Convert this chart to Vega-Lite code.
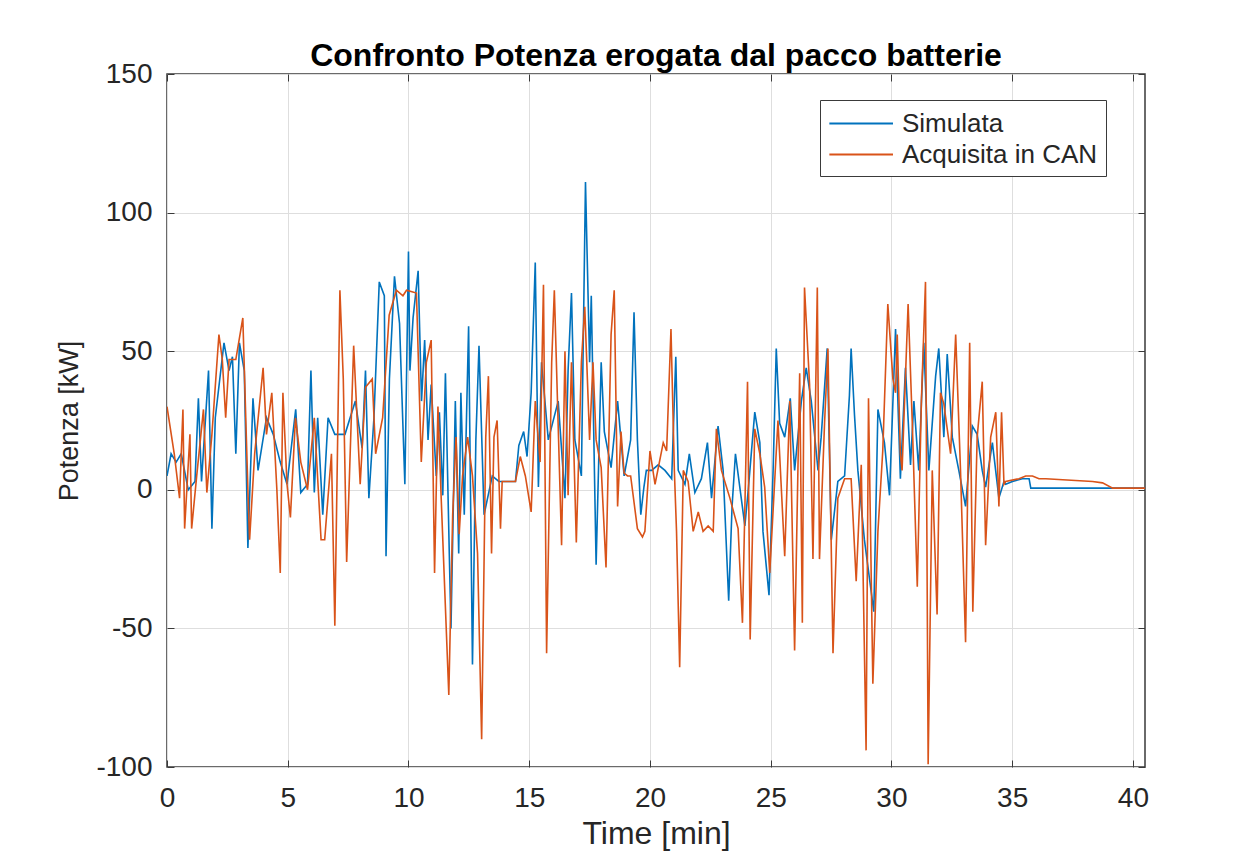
{
  "$schema": "https://vega.github.io/schema/vega-lite/v6.json",
  "width": 978,
  "height": 693,
  "padding": {"left": 55, "top": 40, "right": 10, "bottom": 5},
  "background": "white",
  "config": {
    "font": "Liberation Sans",
    "view": {"stroke": "#3a3a3a", "strokeWidth": 1.5},
    "axis": {"labelFont": "Liberation Sans", "titleFont": "Liberation Sans", "labelColor": "#262626", "titleColor": "#262626", "titleFontWeight": "normal", "domain": false, "tickColor": "#3a3a3a", "gridColor": "#dedede", "gridWidth": 1, "labelFlush": false}
  },
  "title": {"text": "Confronto Potenza erogata dal pacco batterie", "font": "Liberation Sans", "fontSize": 32, "fontWeight": "bold", "color": "#000000", "offset": -13, "anchor": "middle"},
  "data": {"values": [
    {"t":0,"p":5,"s":"Simulata"},{"t":0.17,"p":13,"s":"Simulata"},{"t":0.38,"p":10,"s":"Simulata"},{"t":0.59,"p":13,"s":"Simulata"},{"t":0.88,"p":0,"s":"Simulata"},{"t":1.16,"p":3,"s":"Simulata"},{"t":1.3,"p":33,"s":"Simulata"},{"t":1.43,"p":3,"s":"Simulata"},{"t":1.72,"p":43,"s":"Simulata"},{"t":1.86,"p":-14,"s":"Simulata"},{"t":2.0,"p":26,"s":"Simulata"},{"t":2.36,"p":53,"s":"Simulata"},{"t":2.57,"p":43,"s":"Simulata"},{"t":2.71,"p":48,"s":"Simulata"},{"t":2.85,"p":13,"s":"Simulata"},{"t":3.0,"p":53,"s":"Simulata"},{"t":3.2,"p":43,"s":"Simulata"},{"t":3.35,"p":-21,"s":"Simulata"},{"t":3.56,"p":33,"s":"Simulata"},{"t":3.77,"p":7,"s":"Simulata"},{"t":4.12,"p":26,"s":"Simulata"},{"t":4.4,"p":20,"s":"Simulata"},{"t":4.69,"p":10,"s":"Simulata"},{"t":4.97,"p":2,"s":"Simulata"},{"t":5.33,"p":29,"s":"Simulata"},{"t":5.54,"p":-1,"s":"Simulata"},{"t":5.82,"p":2,"s":"Simulata"},{"t":5.96,"p":43,"s":"Simulata"},{"t":6.1,"p":-1,"s":"Simulata"},{"t":6.24,"p":26,"s":"Simulata"},{"t":6.45,"p":-9,"s":"Simulata"},{"t":6.67,"p":26,"s":"Simulata"},{"t":6.95,"p":20,"s":"Simulata"},{"t":7.37,"p":20,"s":"Simulata"},{"t":7.8,"p":32,"s":"Simulata"},{"t":8.08,"p":15,"s":"Simulata"},{"t":8.22,"p":43,"s":"Simulata"},{"t":8.36,"p":-3,"s":"Simulata"},{"t":8.57,"p":26,"s":"Simulata"},{"t":8.79,"p":75,"s":"Simulata"},{"t":9.0,"p":70,"s":"Simulata"},{"t":9.07,"p":-24,"s":"Simulata"},{"t":9.21,"p":40,"s":"Simulata"},{"t":9.42,"p":77,"s":"Simulata"},{"t":9.63,"p":60,"s":"Simulata"},{"t":9.85,"p":2,"s":"Simulata"},{"t":10.0,"p":86,"s":"Simulata"},
    {"t":10.06,"p":43,"s":"Simulata"},{"t":10.19,"p":62,"s":"Simulata"},{"t":10.4,"p":79,"s":"Simulata"},{"t":10.54,"p":32,"s":"Simulata"},{"t":10.67,"p":54,"s":"Simulata"},{"t":10.81,"p":18,"s":"Simulata"},{"t":10.94,"p":38,"s":"Simulata"},{"t":11.15,"p":5,"s":"Simulata"},{"t":11.28,"p":28,"s":"Simulata"},{"t":11.42,"p":-2,"s":"Simulata"},{"t":11.53,"p":42,"s":"Simulata"},{"t":11.69,"p":-23,"s":"Simulata"},{"t":11.76,"p":-50,"s":"Simulata"},{"t":11.94,"p":32,"s":"Simulata"},{"t":12.08,"p":-23,"s":"Simulata"},{"t":12.17,"p":35,"s":"Simulata"},{"t":12.31,"p":-9,"s":"Simulata"},{"t":12.49,"p":59,"s":"Simulata"},{"t":12.65,"p":-63,"s":"Simulata"},{"t":12.79,"p":18,"s":"Simulata"},{"t":12.92,"p":52,"s":"Simulata"},{"t":13.13,"p":-9,"s":"Simulata"},{"t":13.47,"p":5,"s":"Simulata"},{"t":13.74,"p":3,"s":"Simulata"},{"t":14.43,"p":3,"s":"Simulata"},{"t":14.57,"p":16,"s":"Simulata"},{"t":14.77,"p":21,"s":"Simulata"},{"t":14.91,"p":12,"s":"Simulata"},{"t":15.08,"p":35,"s":"Simulata"},{"t":15.25,"p":82,"s":"Simulata"},{"t":15.38,"p":1,"s":"Simulata"},{"t":15.51,"p":46,"s":"Simulata"},{"t":15.79,"p":18,"s":"Simulata"},{"t":16.2,"p":32,"s":"Simulata"},{"t":16.48,"p":-3,"s":"Simulata"},{"t":16.61,"p":43,"s":"Simulata"},{"t":16.75,"p":71,"s":"Simulata"},{"t":16.89,"p":18,"s":"Simulata"},{"t":17.16,"p":5,"s":"Simulata"},{"t":17.33,"p":111,"s":"Simulata"},{"t":17.5,"p":46,"s":"Simulata"},{"t":17.57,"p":70,"s":"Simulata"},{"t":17.77,"p":-27,"s":"Simulata"},{"t":17.98,"p":46,"s":"Simulata"},{"t":18.11,"p":21,"s":"Simulata"},{"t":18.39,"p":8,"s":"Simulata"},{"t":18.66,"p":32,"s":"Simulata"},{"t":18.93,"p":5,"s":"Simulata"},{"t":19.2,"p":18,"s":"Simulata"},{"t":19.34,"p":64,"s":"Simulata"},{"t":19.48,"p":18,"s":"Simulata"},{"t":19.62,"p":-9,"s":"Simulata"},{"t":19.75,"p":1,"s":"Simulata"},
    {"t":19.85,"p":7,"s":"Simulata"},{"t":20.07,"p":7,"s":"Simulata"},{"t":20.34,"p":9,"s":"Simulata"},{"t":20.62,"p":7,"s":"Simulata"},{"t":20.9,"p":4,"s":"Simulata"},{"t":21.07,"p":48,"s":"Simulata"},{"t":21.17,"p":7,"s":"Simulata"},{"t":21.45,"p":2,"s":"Simulata"},{"t":21.63,"p":13,"s":"Simulata"},{"t":21.86,"p":-1,"s":"Simulata"},{"t":22.13,"p":4,"s":"Simulata"},{"t":22.38,"p":17,"s":"Simulata"},{"t":22.55,"p":-3,"s":"Simulata"},{"t":22.82,"p":23,"s":"Simulata"},{"t":23.03,"p":7,"s":"Simulata"},{"t":23.26,"p":-40,"s":"Simulata"},{"t":23.4,"p":-6,"s":"Simulata"},{"t":23.54,"p":13,"s":"Simulata"},{"t":23.72,"p":1,"s":"Simulata"},{"t":23.93,"p":-13,"s":"Simulata"},{"t":24.06,"p":-1,"s":"Simulata"},{"t":24.34,"p":28,"s":"Simulata"},{"t":24.55,"p":17,"s":"Simulata"},{"t":24.68,"p":-15,"s":"Simulata"},{"t":24.93,"p":-38,"s":"Simulata"},{"t":25.1,"p":7,"s":"Simulata"},{"t":25.23,"p":51,"s":"Simulata"},{"t":25.37,"p":24,"s":"Simulata"},{"t":25.58,"p":19,"s":"Simulata"},{"t":25.81,"p":33,"s":"Simulata"},{"t":25.99,"p":7,"s":"Simulata"},{"t":26.27,"p":32,"s":"Simulata"},{"t":26.47,"p":44,"s":"Simulata"},{"t":26.68,"p":32,"s":"Simulata"},{"t":26.96,"p":7,"s":"Simulata"},{"t":27.09,"p":19,"s":"Simulata"},{"t":27.34,"p":51,"s":"Simulata"},{"t":27.51,"p":-18,"s":"Simulata"},{"t":27.78,"p":3,"s":"Simulata"},{"t":28.06,"p":5,"s":"Simulata"},{"t":28.26,"p":34,"s":"Simulata"},{"t":28.33,"p":51,"s":"Simulata"},{"t":28.47,"p":27,"s":"Simulata"},{"t":28.61,"p":7,"s":"Simulata"},{"t":28.88,"p":-18,"s":"Simulata"},{"t":29.27,"p":-44,"s":"Simulata"},{"t":29.44,"p":29,"s":"Simulata"},{"t":29.71,"p":17,"s":"Simulata"},{"t":29.92,"p":-2,"s":"Simulata"},
    {"t":30.17,"p":58,"s":"Simulata"},{"t":30.37,"p":4,"s":"Simulata"},{"t":30.58,"p":44,"s":"Simulata"},{"t":30.79,"p":9,"s":"Simulata"},{"t":30.93,"p":32,"s":"Simulata"},{"t":31.13,"p":7,"s":"Simulata"},{"t":31.34,"p":53,"s":"Simulata"},{"t":31.55,"p":7,"s":"Simulata"},{"t":31.83,"p":41,"s":"Simulata"},{"t":31.96,"p":51,"s":"Simulata"},{"t":32.17,"p":19,"s":"Simulata"},{"t":32.31,"p":49,"s":"Simulata"},{"t":32.52,"p":19,"s":"Simulata"},{"t":32.79,"p":7,"s":"Simulata"},{"t":33.07,"p":-6,"s":"Simulata"},{"t":33.35,"p":23,"s":"Simulata"},{"t":33.55,"p":20,"s":"Simulata"},{"t":33.76,"p":7,"s":"Simulata"},{"t":33.9,"p":1,"s":"Simulata"},{"t":34.18,"p":17,"s":"Simulata"},{"t":34.45,"p":-3,"s":"Simulata"},{"t":34.66,"p":3,"s":"Simulata"},{"t":34.73,"p":2,"s":"Simulata"},{"t":35.01,"p":3,"s":"Simulata"},{"t":35.42,"p":4,"s":"Simulata"},{"t":35.7,"p":4,"s":"Simulata"},{"t":35.77,"p":0.6,"s":"Simulata"},{"t":39.43,"p":0.6,"s":"Simulata"},{"t":40.5,"p":0.6,"s":"Simulata"},
    {"t":0,"p":30,"s":"Acquisita in CAN"},{"t":0.3,"p":13,"s":"Acquisita in CAN"},{"t":0.52,"p":-3,"s":"Acquisita in CAN"},{"t":0.66,"p":29,"s":"Acquisita in CAN"},{"t":0.73,"p":-14,"s":"Acquisita in CAN"},{"t":0.95,"p":20,"s":"Acquisita in CAN"},{"t":1.02,"p":-14,"s":"Acquisita in CAN"},{"t":1.23,"p":5,"s":"Acquisita in CAN"},{"t":1.51,"p":29,"s":"Acquisita in CAN"},{"t":1.65,"p":-1,"s":"Acquisita in CAN"},{"t":1.86,"p":20,"s":"Acquisita in CAN"},{"t":2.15,"p":56,"s":"Acquisita in CAN"},{"t":2.29,"p":47,"s":"Acquisita in CAN"},{"t":2.43,"p":26,"s":"Acquisita in CAN"},{"t":2.57,"p":47,"s":"Acquisita in CAN"},{"t":2.85,"p":47,"s":"Acquisita in CAN"},{"t":3.14,"p":62,"s":"Acquisita in CAN"},{"t":3.35,"p":0,"s":"Acquisita in CAN"},{"t":3.42,"p":-18,"s":"Acquisita in CAN"},{"t":3.63,"p":13,"s":"Acquisita in CAN"},{"t":3.98,"p":44,"s":"Acquisita in CAN"},{"t":4.12,"p":20,"s":"Acquisita in CAN"},{"t":4.34,"p":35,"s":"Acquisita in CAN"},{"t":4.55,"p":0,"s":"Acquisita in CAN"},{"t":4.69,"p":-30,"s":"Acquisita in CAN"},{"t":4.8,"p":35,"s":"Acquisita in CAN"},{"t":4.97,"p":2,"s":"Acquisita in CAN"},{"t":5.11,"p":-10,"s":"Acquisita in CAN"},{"t":5.32,"p":26,"s":"Acquisita in CAN"},{"t":5.54,"p":10,"s":"Acquisita in CAN"},{"t":5.82,"p":0,"s":"Acquisita in CAN"},{"t":6.1,"p":26,"s":"Acquisita in CAN"},{"t":6.38,"p":-18,"s":"Acquisita in CAN"},{"t":6.53,"p":-18,"s":"Acquisita in CAN"},{"t":6.81,"p":13,"s":"Acquisita in CAN"},{"t":6.95,"p":-49,"s":"Acquisita in CAN"},{"t":7.16,"p":72,"s":"Acquisita in CAN"},{"t":7.3,"p":40,"s":"Acquisita in CAN"},{"t":7.44,"p":-26,"s":"Acquisita in CAN"},{"t":7.73,"p":52,"s":"Acquisita in CAN"},{"t":8.0,"p":2,"s":"Acquisita in CAN"},{"t":8.22,"p":37,"s":"Acquisita in CAN"},{"t":8.5,"p":40,"s":"Acquisita in CAN"},{"t":8.64,"p":13,"s":"Acquisita in CAN"},{"t":8.93,"p":26,"s":"Acquisita in CAN"},{"t":9.2,"p":63,"s":"Acquisita in CAN"},{"t":9.5,"p":72,"s":"Acquisita in CAN"},{"t":9.77,"p":70,"s":"Acquisita in CAN"},
    {"t":9.92,"p":72,"s":"Acquisita in CAN"},{"t":10.33,"p":71,"s":"Acquisita in CAN"},{"t":10.53,"p":10,"s":"Acquisita in CAN"},{"t":10.74,"p":46,"s":"Acquisita in CAN"},{"t":10.94,"p":54,"s":"Acquisita in CAN"},{"t":11.08,"p":-30,"s":"Acquisita in CAN"},{"t":11.22,"p":30,"s":"Acquisita in CAN"},{"t":11.35,"p":-2,"s":"Acquisita in CAN"},{"t":11.67,"p":-74,"s":"Acquisita in CAN"},{"t":11.83,"p":-9,"s":"Acquisita in CAN"},{"t":11.97,"p":19,"s":"Acquisita in CAN"},{"t":12.1,"p":-16,"s":"Acquisita in CAN"},{"t":12.24,"p":5,"s":"Acquisita in CAN"},{"t":12.45,"p":19,"s":"Acquisita in CAN"},{"t":12.65,"p":5,"s":"Acquisita in CAN"},{"t":12.86,"p":-23,"s":"Acquisita in CAN"},{"t":13.03,"p":-90,"s":"Acquisita in CAN"},{"t":13.2,"p":19,"s":"Acquisita in CAN"},{"t":13.31,"p":41,"s":"Acquisita in CAN"},{"t":13.44,"p":-23,"s":"Acquisita in CAN"},{"t":13.54,"p":19,"s":"Acquisita in CAN"},{"t":13.67,"p":25,"s":"Acquisita in CAN"},{"t":13.81,"p":-14,"s":"Acquisita in CAN"},{"t":13.88,"p":3,"s":"Acquisita in CAN"},{"t":14.43,"p":3,"s":"Acquisita in CAN"},{"t":14.63,"p":12,"s":"Acquisita in CAN"},{"t":14.84,"p":5,"s":"Acquisita in CAN"},{"t":15.08,"p":-8,"s":"Acquisita in CAN"},{"t":15.25,"p":32,"s":"Acquisita in CAN"},{"t":15.45,"p":10,"s":"Acquisita in CAN"},{"t":15.59,"p":74,"s":"Acquisita in CAN"},{"t":15.72,"p":-59,"s":"Acquisita in CAN"},{"t":15.93,"p":46,"s":"Acquisita in CAN"},{"t":16.04,"p":72,"s":"Acquisita in CAN"},{"t":16.17,"p":32,"s":"Acquisita in CAN"},{"t":16.34,"p":-20,"s":"Acquisita in CAN"},{"t":16.48,"p":50,"s":"Acquisita in CAN"},{"t":16.61,"p":-2,"s":"Acquisita in CAN"},{"t":16.75,"p":46,"s":"Acquisita in CAN"},{"t":16.95,"p":-19,"s":"Acquisita in CAN"},{"t":17.16,"p":46,"s":"Acquisita in CAN"},{"t":17.3,"p":66,"s":"Acquisita in CAN"},{"t":17.5,"p":18,"s":"Acquisita in CAN"},{"t":17.64,"p":46,"s":"Acquisita in CAN"},{"t":17.77,"p":18,"s":"Acquisita in CAN"},{"t":17.98,"p":8,"s":"Acquisita in CAN"},{"t":18.18,"p":-28,"s":"Acquisita in CAN"},{"t":18.39,"p":56,"s":"Acquisita in CAN"},{"t":18.52,"p":72,"s":"Acquisita in CAN"},{"t":18.66,"p":-6,"s":"Acquisita in CAN"},{"t":18.8,"p":21,"s":"Acquisita in CAN"},{"t":18.93,"p":6,"s":"Acquisita in CAN"},{"t":19.07,"p":5,"s":"Acquisita in CAN"},{"t":19.2,"p":5,"s":"Acquisita in CAN"},{"t":19.48,"p":-14,"s":"Acquisita in CAN"},{"t":19.69,"p":-17,"s":"Acquisita in CAN"},
    {"t":19.79,"p":-15,"s":"Acquisita in CAN"},{"t":20.0,"p":14,"s":"Acquisita in CAN"},{"t":20.21,"p":2,"s":"Acquisita in CAN"},{"t":20.55,"p":17,"s":"Acquisita in CAN"},{"t":20.69,"p":14,"s":"Acquisita in CAN"},{"t":20.87,"p":58,"s":"Acquisita in CAN"},{"t":21.01,"p":7,"s":"Acquisita in CAN"},{"t":21.1,"p":-15,"s":"Acquisita in CAN"},{"t":21.23,"p":-64,"s":"Acquisita in CAN"},{"t":21.38,"p":7,"s":"Acquisita in CAN"},{"t":21.58,"p":3,"s":"Acquisita in CAN"},{"t":21.79,"p":-15,"s":"Acquisita in CAN"},{"t":22.0,"p":-8,"s":"Acquisita in CAN"},{"t":22.2,"p":-15,"s":"Acquisita in CAN"},{"t":22.41,"p":-13,"s":"Acquisita in CAN"},{"t":22.62,"p":-15,"s":"Acquisita in CAN"},{"t":22.75,"p":22,"s":"Acquisita in CAN"},{"t":22.96,"p":7,"s":"Acquisita in CAN"},{"t":23.31,"p":-3,"s":"Acquisita in CAN"},{"t":23.65,"p":-14,"s":"Acquisita in CAN"},{"t":23.83,"p":-48,"s":"Acquisita in CAN"},{"t":24.04,"p":39,"s":"Acquisita in CAN"},{"t":24.15,"p":-54,"s":"Acquisita in CAN"},{"t":24.34,"p":22,"s":"Acquisita in CAN"},{"t":24.55,"p":13,"s":"Acquisita in CAN"},{"t":24.75,"p":1,"s":"Acquisita in CAN"},{"t":24.96,"p":-30,"s":"Acquisita in CAN"},{"t":25.3,"p":25,"s":"Acquisita in CAN"},{"t":25.58,"p":-24,"s":"Acquisita in CAN"},{"t":25.79,"p":32,"s":"Acquisita in CAN"},{"t":25.99,"p":-58,"s":"Acquisita in CAN"},{"t":26.2,"p":42,"s":"Acquisita in CAN"},{"t":26.31,"p":-48,"s":"Acquisita in CAN"},{"t":26.4,"p":73,"s":"Acquisita in CAN"},{"t":26.61,"p":38,"s":"Acquisita in CAN"},{"t":26.75,"p":-25,"s":"Acquisita in CAN"},{"t":26.93,"p":73,"s":"Acquisita in CAN"},{"t":27.02,"p":-25,"s":"Acquisita in CAN"},{"t":27.23,"p":24,"s":"Acquisita in CAN"},{"t":27.37,"p":51,"s":"Acquisita in CAN"},{"t":27.58,"p":-59,"s":"Acquisita in CAN"},{"t":27.78,"p":-3,"s":"Acquisita in CAN"},{"t":28.06,"p":4,"s":"Acquisita in CAN"},{"t":28.33,"p":4,"s":"Acquisita in CAN"},{"t":28.54,"p":-33,"s":"Acquisita in CAN"},{"t":28.75,"p":9,"s":"Acquisita in CAN"},{"t":28.95,"p":-94,"s":"Acquisita in CAN"},{"t":29.05,"p":33,"s":"Acquisita in CAN"},{"t":29.23,"p":-70,"s":"Acquisita in CAN"},{"t":29.44,"p":-15,"s":"Acquisita in CAN"},{"t":29.64,"p":14,"s":"Acquisita in CAN"},{"t":29.85,"p":67,"s":"Acquisita in CAN"},
    {"t":30.06,"p":40,"s":"Acquisita in CAN"},{"t":30.17,"p":35,"s":"Acquisita in CAN"},{"t":30.24,"p":56,"s":"Acquisita in CAN"},{"t":30.37,"p":13,"s":"Acquisita in CAN"},{"t":30.44,"p":7,"s":"Acquisita in CAN"},{"t":30.69,"p":67,"s":"Acquisita in CAN"},{"t":30.86,"p":25,"s":"Acquisita in CAN"},{"t":31.07,"p":-35,"s":"Acquisita in CAN"},{"t":31.24,"p":32,"s":"Acquisita in CAN"},{"t":31.41,"p":75,"s":"Acquisita in CAN"},{"t":31.52,"p":-99,"s":"Acquisita in CAN"},{"t":31.69,"p":7,"s":"Acquisita in CAN"},{"t":31.89,"p":-45,"s":"Acquisita in CAN"},{"t":32.03,"p":35,"s":"Acquisita in CAN"},{"t":32.17,"p":31,"s":"Acquisita in CAN"},{"t":32.45,"p":13,"s":"Acquisita in CAN"},{"t":32.66,"p":56,"s":"Acquisita in CAN"},{"t":32.86,"p":7,"s":"Acquisita in CAN"},{"t":33.07,"p":-55,"s":"Acquisita in CAN"},{"t":33.24,"p":53,"s":"Acquisita in CAN"},{"t":33.37,"p":-44,"s":"Acquisita in CAN"},{"t":33.55,"p":19,"s":"Acquisita in CAN"},{"t":33.76,"p":39,"s":"Acquisita in CAN"},{"t":33.9,"p":-20,"s":"Acquisita in CAN"},{"t":34.11,"p":19,"s":"Acquisita in CAN"},{"t":34.32,"p":28,"s":"Acquisita in CAN"},{"t":34.45,"p":-6,"s":"Acquisita in CAN"},{"t":34.56,"p":28,"s":"Acquisita in CAN"},{"t":34.66,"p":2,"s":"Acquisita in CAN"},{"t":34.73,"p":3,"s":"Acquisita in CAN"},{"t":35.28,"p":4,"s":"Acquisita in CAN"},{"t":35.56,"p":5,"s":"Acquisita in CAN"},{"t":35.84,"p":5,"s":"Acquisita in CAN"},{"t":36.11,"p":4,"s":"Acquisita in CAN"},{"t":36.39,"p":4,"s":"Acquisita in CAN"},{"t":38.33,"p":3,"s":"Acquisita in CAN"},{"t":38.74,"p":2.5,"s":"Acquisita in CAN"},{"t":39.16,"p":0.6,"s":"Acquisita in CAN"},{"t":40.5,"p":0.6,"s":"Acquisita in CAN"}
  ]},
  "encoding": {
    "x": {"field": "t", "type": "quantitative", "scale": {"domain": [0, 40.5], "nice": false, "zero": false}},
    "y": {"field": "p", "type": "quantitative", "scale": {"domain": [-100, 150], "nice": false}}
  },
  "layer": [
    {
      "transform": [{"filter": "datum.s === 'Simulata'"}],
      "mark": {"type": "line", "strokeWidth": 1.6, "clip": true},
      "encoding": {
        "x": {"field": "t", "type": "quantitative", "title": "Time [min]", "axis": {"orient": "bottom", "values": [0,5,10,15,20,25,30,35,40], "grid": true, "tickSize": -7, "labelFontSize": 28, "labelPadding": 24, "labelFlush": false, "titleFontSize": 32, "titlePadding": 6, "labelExpr": "'' + datum.value"}},
        "y": {"field": "p", "type": "quantitative", "title": "Potenza [kW]", "axis": {"orient": "left", "values": [-100,-50,0,50,100,150], "grid": true, "tickSize": -7, "labelFontSize": 28, "labelPadding": 22, "labelFlush": false, "titleFontSize": 27, "titlePadding": 12, "labelExpr": "'' + datum.value"}},
        "color": {"field": "s", "type": "nominal", "scale": {"domain": ["Simulata", "Acquisita in CAN"], "range": ["#0072BD", "#D95319"]},
          "legend": {"title": null, "orient": "none", "legendX": 653, "legendY": 26, "symbolType": "M-1,0H3.5", "symbolSize": 800, "symbolStrokeWidth": 2, "labelOffset": 43, "labelFontSize": 26, "labelLimit": 500, "labelColor": "#262626", "labelFont": "Liberation Sans", "rowPadding": 2, "padding": 8, "strokeColor": "#3a3a3a", "fillColor": "white"}}
      }
    },
    {
      "transform": [{"filter": "datum.s === 'Acquisita in CAN'"}],
      "mark": {"type": "line", "strokeWidth": 1.6, "clip": true},
      "encoding": {
        "x": {"field": "t", "type": "quantitative", "axis": null},
        "y": {"field": "p", "type": "quantitative", "axis": null},
        "color": {"field": "s", "type": "nominal", "scale": {"domain": ["Simulata", "Acquisita in CAN"], "range": ["#0072BD", "#D95319"]}, "legend": null}
      }
    },
    {
      "mark": {"type": "point", "opacity": 0},
      "encoding": {
        "x": {"field": "t", "type": "quantitative", "axis": {"orient": "top", "values": [0,5,10,15,20,25,30,35,40], "grid": false, "labels": false, "tickSize": -7, "title": null, "minExtent": 0, "maxExtent": 0}},
        "y": {"field": "p", "type": "quantitative", "axis": {"orient": "right", "values": [-100,-50,0,50,100,150], "grid": false, "labels": false, "tickSize": -7, "title": null, "minExtent": 0, "maxExtent": 0}}
      }
    }
  ],
  "resolve": {"axis": {"x": "independent", "y": "independent"}}
}
